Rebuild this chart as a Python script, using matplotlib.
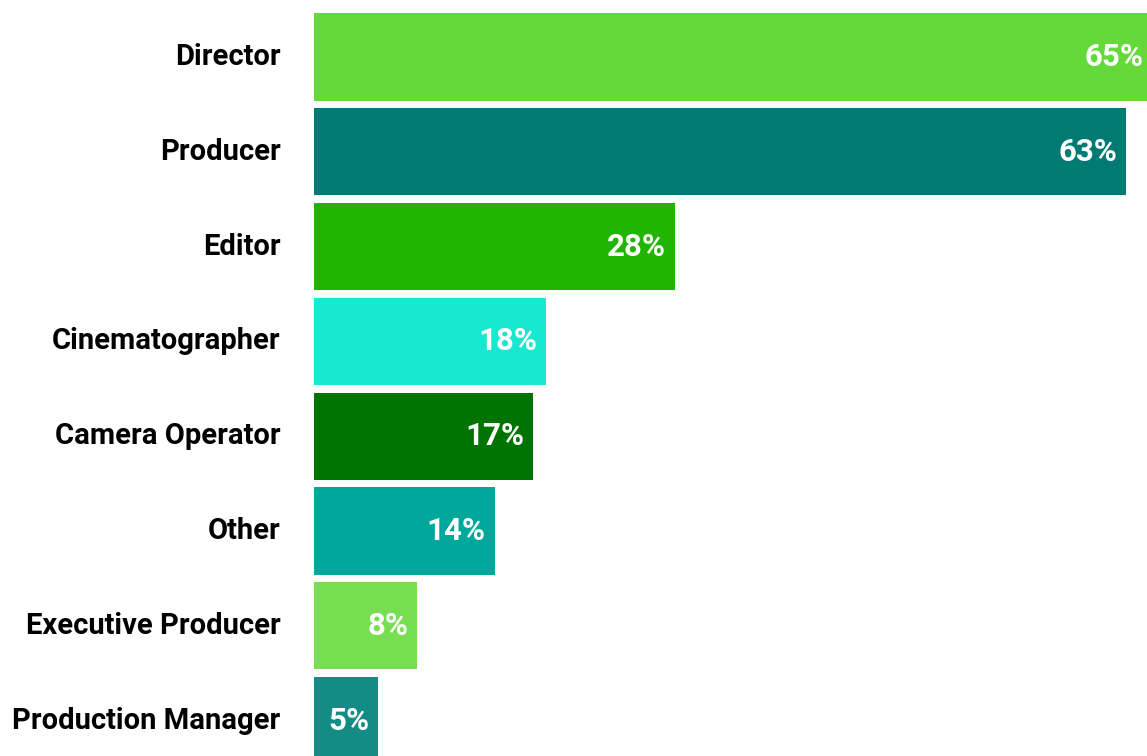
import matplotlib
matplotlib.use("Agg")
import matplotlib.pyplot as plt

categories = ["Director", "Producer", "Editor", "Cinematographer", "Camera Operator",
              "Other", "Executive Producer", "Production Manager"]
values = [65, 63, 28, 18, 17, 14, 8, 5]
colors = ["#63d93a", "#007a73", "#20b500", "#18e8d0", "#007300", "#00a89c", "#77de52", "#138c85"]

plt.rcParams['font.family'] = ['Roboto', 'DejaVu Sans']

fig = plt.figure(figsize=(11.47, 7.56), dpi=100)
ax = fig.add_axes([314/1147, 0, 833/1147, 1])
y = list(range(len(categories)))
ax.barh(y, values, height=0.92, color=colors)
ax.set_xlim(0, 64.6)
ax.set_ylim(7.374, -0.601)
for yi, v in zip(y, values):
    ax.annotate(f"{v}%", xy=(v, yi), xytext=(-6.5, 0), textcoords="offset points",
                ha="right", va="center", color="white", annotation_clip=False,
                fontsize=22.5, fontweight="bold")
ax.set_yticks(y)
ax.set_yticklabels(categories, fontsize=21, fontweight="bold", va="center")
ax.tick_params(axis="y", length=0, pad=24)
ax.set_xticks([])
for s in ax.spines.values():
    s.set_visible(False)
fig.savefig("out.png", dpi=100)
